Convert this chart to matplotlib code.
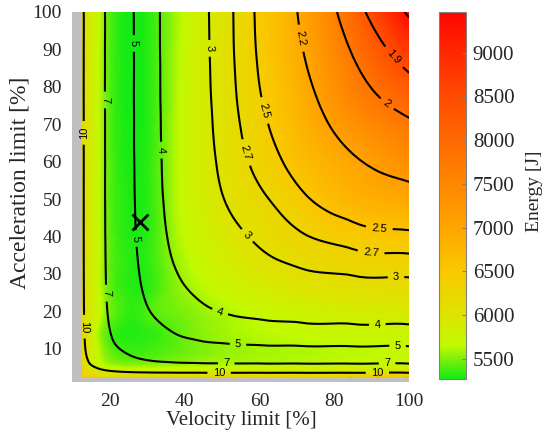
import numpy as np
import matplotlib
matplotlib.use('Agg')
import matplotlib.pyplot as plt
import matplotlib.tri as mtri
from matplotlib.colors import LinearSegmentedColormap

# Grid of the map: velocity limit [%] (columns) and acceleration limit [%] (rows)
velocity = np.array([12.6, 14, 16, 18.5, 22, 26, 31, 37, 44, 52, 61, 71, 85, 100])
acceleration = np.array([2.5, 3.2, 4, 5, 6.5, 8.5, 11, 14.5, 19, 25, 32, 40, 50, 62, 75, 88, 100])

# Cycle time [s]
cycle_time = np.array([
    [14.35, 13.88, 13.45, 13.13, 12.90, 12.77, 12.70, 12.66, 12.65, 12.64, 12.64, 12.63, 12.63, 12.63],
    [13.11, 12.53, 11.96, 11.53, 11.20, 11.01, 10.90, 10.84, 10.82, 10.81, 10.80, 10.80, 10.80, 10.80],
    [12.22, 11.60, 10.91, 10.35, 9.91, 9.64, 9.48, 9.39, 9.35, 9.33, 9.32, 9.32, 9.32, 9.32],
    [11.52, 10.80, 10.07, 9.40, 8.83, 8.46, 8.23, 8.10, 8.04, 8.01, 7.99, 7.99, 7.98, 7.98],
    [10.98, 10.17, 9.30, 8.66, 8.00, 7.50, 7.14, 6.93, 6.80, 6.74, 6.71, 6.69, 6.68, 6.68],
    [10.69, 9.80, 8.85, 8.09, 7.43, 6.86, 6.40, 6.10, 5.92, 5.81, 5.76, 5.73, 5.71, 5.71],
    [10.52, 9.58, 8.56, 7.70, 6.93, 6.36, 5.84, 5.46, 5.22, 5.07, 4.98, 4.94, 4.91, 4.91],
    [10.42, 9.46, 8.38, 7.45, 6.58, 5.94, 5.42, 4.98, 4.68, 4.49, 4.37, 4.31, 4.27, 4.26],
    [10.36, 9.38, 8.28, 7.29, 6.34, 5.63, 5.04, 4.60, 4.25, 4.01, 3.87, 3.78, 3.72, 3.71],
    [10.33, 9.34, 8.21, 7.18, 6.18, 5.40, 4.75, 4.26, 3.89, 3.62, 3.44, 3.32, 3.25, 3.23],
    [10.32, 9.31, 8.18, 7.13, 6.08, 5.26, 4.56, 4.02, 3.62, 3.34, 3.13, 2.98, 2.88, 2.85],
    [10.31, 9.30, 8.17, 7.10, 6.03, 5.17, 4.44, 3.86, 3.43, 3.13, 2.91, 2.73, 2.60, 2.55],
    [10.31, 9.30, 8.16, 7.08, 6.00, 5.12, 4.36, 3.75, 3.29, 2.95, 2.73, 2.54, 2.37, 2.29],
    [10.31, 9.30, 8.16, 7.08, 5.98, 5.09, 4.32, 3.69, 3.21, 2.84, 2.59, 2.39, 2.20, 2.10],
    [10.30, 9.30, 8.15, 7.07, 5.97, 5.08, 4.30, 3.66, 3.17, 2.78, 2.50, 2.29, 2.08, 1.97],
    [10.30, 9.30, 8.15, 7.07, 5.97, 5.08, 4.29, 3.65, 3.15, 2.75, 2.45, 2.22, 2.00, 1.87],
    [10.30, 9.30, 8.15, 7.07, 5.97, 5.07, 4.28, 3.65, 3.14, 2.74, 2.43, 2.18, 1.94, 1.79],
])

# Energy [J]
energy = np.array([
    [6450, 6400, 6350, 6300, 6280, 6270, 6270, 6280, 6300, 6320, 6340, 6360, 6400, 6440],
    [6350, 6250, 6150, 6080, 6040, 6020, 6020, 6030, 6050, 6070, 6090, 6110, 6140, 6180],
    [6300, 6150, 6000, 5900, 5850, 5830, 5820, 5830, 5850, 5870, 5890, 5910, 5940, 5980],
    [6250, 6050, 5850, 5720, 5660, 5640, 5640, 5650, 5670, 5690, 5710, 5730, 5760, 5800],
    [6250, 6000, 5750, 5600, 5500, 5470, 5480, 5520, 5560, 5590, 5610, 5630, 5660, 5700],
    [6250, 6000, 5750, 5550, 5420, 5380, 5400, 5450, 5510, 5560, 5590, 5610, 5640, 5680],
    [6250, 6000, 5720, 5500, 5360, 5340, 5360, 5420, 5500, 5560, 5600, 5630, 5660, 5700],
    [6230, 5980, 5700, 5470, 5330, 5310, 5340, 5420, 5520, 5590, 5640, 5680, 5720, 5760],
    [6200, 5980, 5780, 5560, 5400, 5330, 5410, 5460, 5540, 5610, 5690, 5760, 5830, 5890],
    [6180, 5980, 5780, 5550, 5380, 5320, 5360, 5500, 5610, 5730, 5840, 5950, 6040, 6100],
    [6170, 5980, 5780, 5540, 5370, 5310, 5350, 5530, 5690, 5850, 6010, 6130, 6240, 6310],
    [6160, 5980, 5780, 5540, 5360, 5300, 5350, 5570, 5760, 5960, 6120, 6270, 6450, 6550],
    [6150, 5980, 5780, 5530, 5350, 5290, 5350, 5590, 5830, 6050, 6220, 6460, 6780, 6950],
    [6150, 5970, 5770, 5530, 5340, 5280, 5350, 5590, 5850, 6090, 6350, 6670, 7050, 7460],
    [6150, 5970, 5770, 5520, 5330, 5270, 5340, 5580, 5850, 6100, 6410, 6820, 7470, 8000],
    [6150, 5970, 5770, 5520, 5330, 5270, 5340, 5570, 5840, 6100, 6470, 6910, 7770, 8690],
    [6150, 5970, 5770, 5520, 5330, 5270, 5340, 5550, 5820, 6080, 6480, 6980, 8030, 9450],
])

time_levels = [1.8, 1.9, 2, 2.2, 2.5, 2.7, 3, 4, 5, 7, 10]
optimum_velocity = [28]
optimum_acceleration = [44]
x_ticks = [20, 40, 60, 80, 100]
y_ticks = [10, 20, 30, 40, 50, 60, 70, 80, 90, 100]
cbar_ticks = [5500, 6000, 6500, 7000, 7500, 8000, 8500, 9000]
vmin, vmax = 5270, 9470

cnodes = [(5270, (20, 235, 20)), (5500, (130, 240, 10)), (5650, (195, 250, 0)), (6000, (222, 228, 0)),
          (6500, (250, 200, 0)), (7000, (255, 165, 0)), (7500, (255, 135, 0)), (8000, (255, 105, 0)),
          (8500, (255, 75, 0)), (9000, (255, 40, 0)), (9470, (255, 5, 0))]
cmap = LinearSegmentedColormap.from_list(
    'energy', [((v - vmin) / (vmax - vmin), tuple(c / 255 for c in col)) for v, col in cnodes])

fig = plt.figure(figsize=(5.47, 4.41), dpi=100)
ax = fig.add_axes([0.1325, 0.1327, 0.6155, 0.8401])
ax.set_facecolor((0.75, 0.75, 0.75))

VV, AA = np.meshgrid(velocity, acceleration)
nx, ny = len(velocity), len(acceleration)
tris = []
for j in range(ny - 1):
    for i in range(nx - 1):
        k = j * nx + i
        tris.append([k, k + 1, k + nx + 1])
        tris.append([k, k + nx + 1, k + nx])
tri = mtri.Triangulation(VV.ravel(), AA.ravel(), np.array(tris))
refiner = mtri.UniformTriRefiner(tri)
tri_t, T_r = refiner.refine_field(cycle_time.ravel(), subdiv=3)
tri_e, E_r = refiner.refine_field(energy.ravel().astype(float), subdiv=3)

pc = ax.tripcolor(tri_e, E_r, shading='gouraud', cmap=cmap, vmin=vmin, vmax=vmax)
cs = ax.tricontour(tri_t, T_r, levels=time_levels, colors='k', linewidths=1.5)
label_spots = [(12.9, 67.7), (13, 15.9), (49.2, 3.5), (91.5, 3.5), (18.9, 76.5), (19.6, 24.9), (51.1, 5.9),
               (94.1, 5.9), (26.4, 91.6), (27.3, 39.5), (54.2, 10.6), (96.9, 10.6), (34.4, 63.1), (48.9, 18.2),
               (91.5, 16.4), (46.9, 90.3), (56.4, 40), (96.5, 28.8), (57.3, 62.7), (89.8, 35.7), (61.8, 73.8),
               (92, 42.2), (70.5, 92.9), (94.2, 75.6), (95.5, 87.6)]
ax.clabel(cs, manual=label_spots, inline=True, fontsize=8, fmt='%g')
for t in cs.labelTexts:
    t.set_fontfamily('Liberation Sans')
ax.plot(optimum_velocity, optimum_acceleration, linestyle='none', marker='x', color='k', ms=11, mew=2)

ax.set_xlim(10, 100)
ax.set_ylim(1, 100)
ax.set_xticks(x_ticks)
ax.set_yticks(y_ticks)
for s in ax.spines.values():
    s.set_visible(False)
ax.tick_params(length=0, labelsize=14, labelcolor='#262626', pad=7.5)
for t in ax.get_xticklabels() + ax.get_yticklabels():
    t.set_fontfamily('Liberation Serif')
ax.set_xlabel('Velocity limit [%]', fontsize=15, family='Liberation Serif', color='#262626', va='center')
ax.set_ylabel('Acceleration limit [%]', fontsize=17, family='Liberation Serif', color='#262626', va='center')
ax.xaxis.set_label_coords(0.5, -(421 - 382.5) / 370.5)
ax.yaxis.set_label_coords(-(72.5 - 20) / 336.5, 0.54)

cax = fig.add_axes([0.8026, 0.1406, 0.049, 0.833])
cb = fig.colorbar(pc, cax=cax)
cb.set_ticks(cbar_ticks)
cb.outline.set_edgecolor('#808080')
cax.tick_params(direction='in', length=3, labelsize=15, labelcolor='#262626', color='#808080', pad=5)
for t in cax.get_yticklabels():
    t.set_fontfamily('Liberation Serif')
cb.set_label('Energy [J]', fontsize=14, family='Liberation Serif', color='#262626', va='center')
cax.yaxis.set_label_coords((535 - 439) / 27, 0.51)

fig.savefig('out.png', dpi=100)
